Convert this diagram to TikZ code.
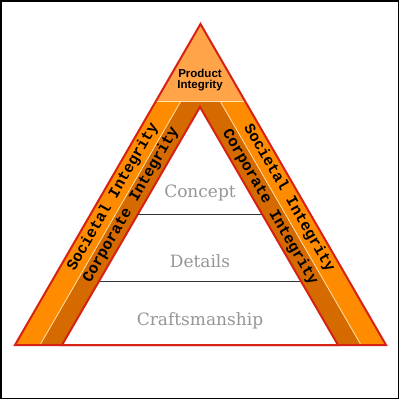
\documentclass[tikz,border=0pt]{standalone}
\usepackage{fontspec}
\usepackage{tikz}
\usetikzlibrary{calc,positioning}
\newfontfamily\bandfont{Liberation Mono}
\newfontfamily\levelfont{DejaVu Serif}
\newfontfamily\topfont{Liberation Sans}
\definecolor{bandlight}{RGB}{255,140,0}
\definecolor{banddark}{RGB}{212,106,0}
\definecolor{toporange}{RGB}{255,164,72}
\definecolor{creamline}{RGB}{255,226,170}
\definecolor{edgered}{RGB}{214,34,20}
\definecolor{levelgray}{RGB}{150,150,150}
\tikzset{
  outline/.style={
      draw=edgered,
      line width=2pt,
      line join=miter,
  },
  bandtext/.style={
      font=\bandfont\bfseries\fontsize{15.5}{16}\selectfont,
      inner sep=0pt,
  },
  leveltext/.style={
      font=\levelfont\fontsize{17}{18}\selectfont,
      text=levelgray,
      inner sep=0pt,
  },
  toptext/.style={
      font=\topfont\bfseries\fontsize{11.5}{11}\selectfont,
      align=center,
      inner sep=0pt,
  },
  divider/.style={
      draw=creamline,
      line width=0.8pt,
  },
}
\begin{document}
\begin{tikzpicture}[x=1pt,y=-1pt]
  \useasboundingbox (0,0) rectangle (400,400);
  \draw[line width=1.5pt] (1,1) rectangle (398.5,398.5);
  % outer and inner triangle
  \coordinate (apex) at (200.5,24);
  \coordinate (bl) at (15,345);
  \coordinate (br) at (386,345);
  \coordinate (iapex) at (200,107);
  \coordinate (il) at (62,345);
  \coordinate (ir) at (338,345);
  \coordinate (cl) at (40,345);
  \coordinate (cr) at (361,345);
  \coordinate (ctl) at (181,101);
  \coordinate (ctr) at (220,101);
  \coordinate (tl) at (156,101);
  \coordinate (tr) at (245,101);
  \fill[bandlight] (apex) -- (bl) -- (br) -- cycle;
  \fill[banddark] (cl) -- (ctl) -- (ctr) -- (cr) -- cycle;
  \fill[toporange] (apex) -- (tl) -- (tr) -- cycle;
  \fill[white] (iapex) -- (il) -- (ir) -- cycle;
  \draw[divider] (cl) -- (ctl);
  \draw[divider] (cr) -- (ctr);
  \draw[divider] (tl) -- (tr);
  \draw[outline] (iapex) -- (il) -- (ir) -- cycle;
  \draw[outline] (apex) -- (bl) -- (br) -- cycle;
  % levels
  \coordinate (c1l) at (138,214);
  \coordinate (c1r) at (262,214);
  \coordinate (c2l) at (100,281);
  \coordinate (c2r) at (300,281);
  \draw[line width=1pt,black!80] (c1l) -- (c1r);
  \draw[line width=1pt,black!80] (c2l) -- (c2r);
  \node[leveltext](concept) at (200,193){Concept};
  \node[leveltext](details) at (200,261){Details};
  \node[leveltext](craft) at (200,321){Craftsmanship};
  % band labels
  \node[toptext](product) at (200,80){Product\\Integrity};
  \node[bandtext,rotate=60](socl) at (113,197){Societal Integrity};
  \node[bandtext,rotate=60](corpl) at (131,205){Corporate Integrity};
  \node[bandtext,rotate=-60](socr) at (289,198){Societal Integrity};
  \node[bandtext,rotate=-60](corpr) at (270,207){Corporate Integrity};
\end{tikzpicture}
\end{document}
